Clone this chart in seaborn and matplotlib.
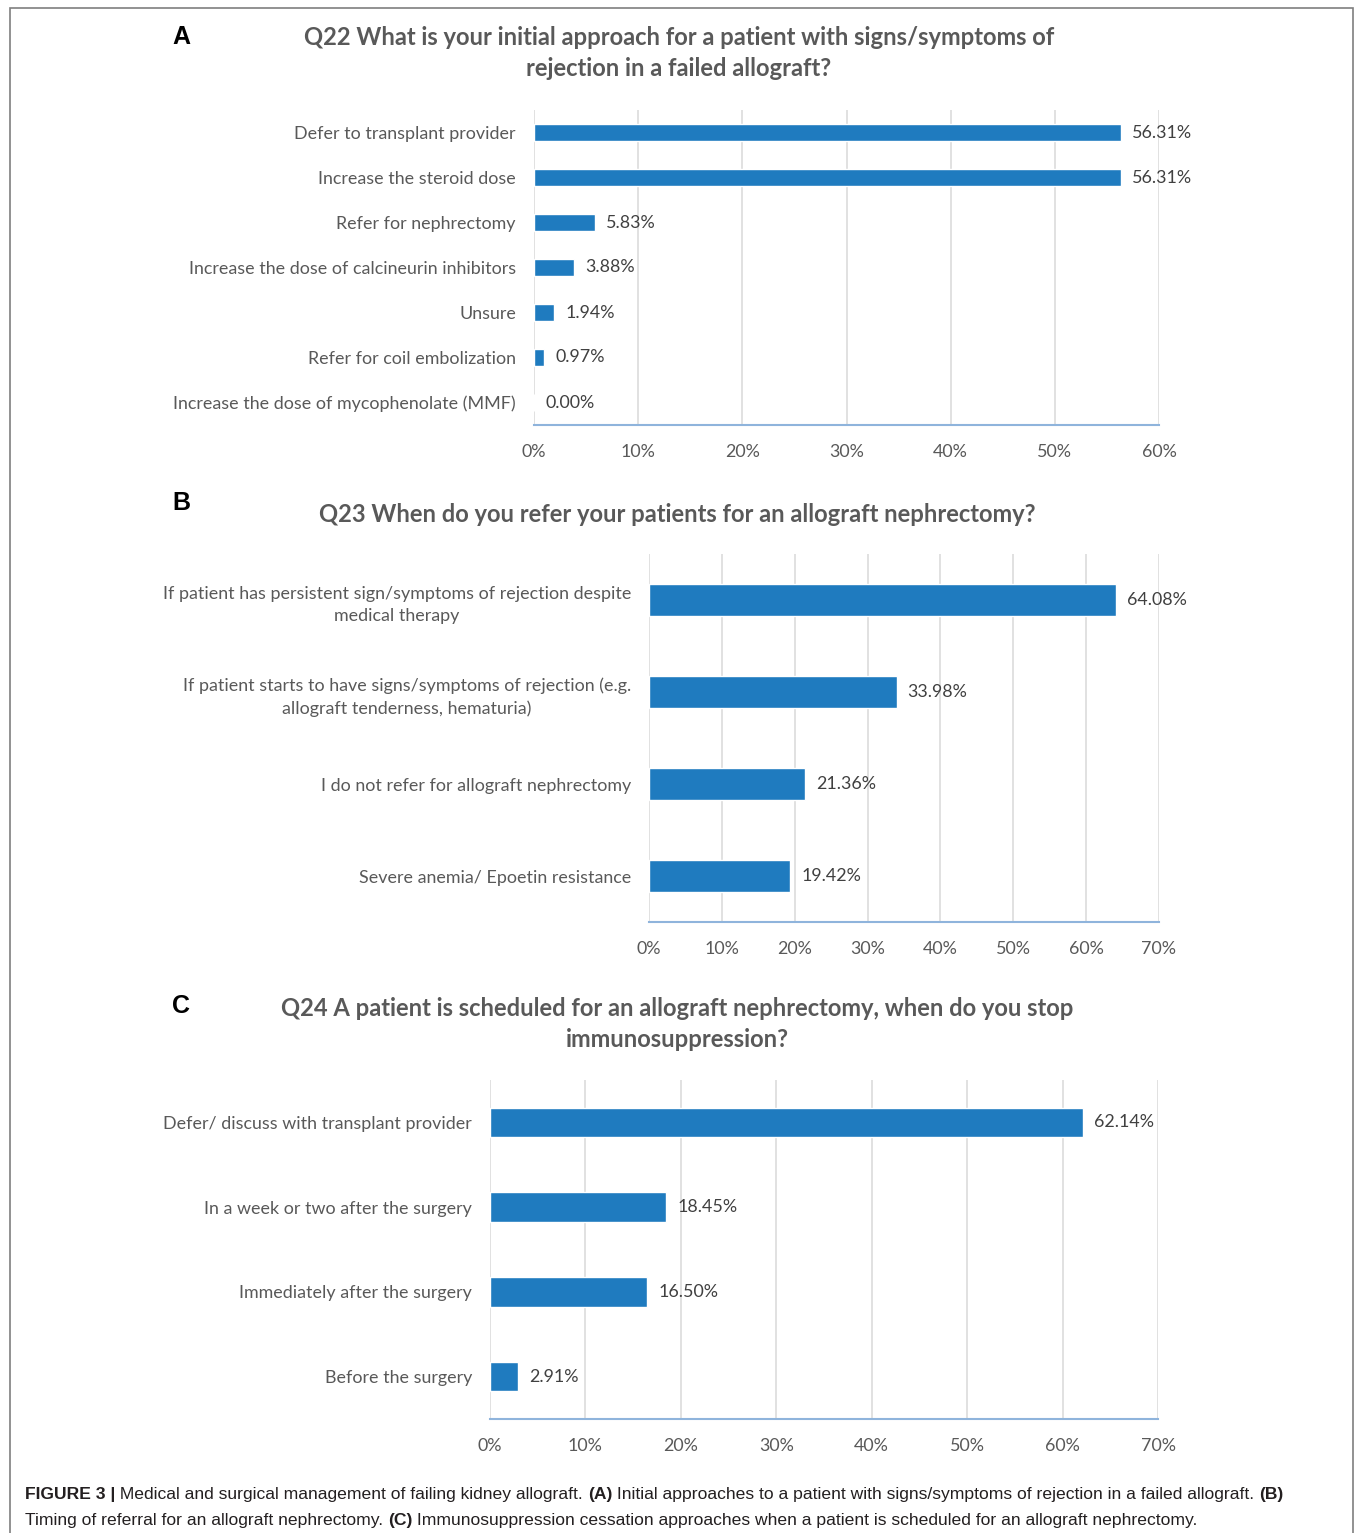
import numpy as np
import pandas as pd
import matplotlib
matplotlib.use("Agg")
import matplotlib.pyplot as plt
import seaborn as sns
from matplotlib import font_manager
from matplotlib.patches import Rectangle

# Panel A data
q22_labels = [
    "Defer to transplant provider",
    "Increase the steroid dose",
    "Refer for nephrectomy",
    "Increase the dose of calcineurin inhibitors",
    "Unsure",
    "Refer for coil embolization",
    "Increase the dose of mycophenolate (MMF)",
]
q22_values = [56.31, 56.31, 5.83, 3.88, 1.94, 0.97, 0.00]
q22_ticks = [0, 10, 20, 30, 40, 50, 60]

# Panel B data
q23_labels = [
    "If patient has persistent sign/symptoms of rejection despite\nmedical therapy",
    "If patient starts to have signs/symptoms of rejection (e.g.\nallograft tenderness, hematuria)",
    "I do not refer for allograft nephrectomy",
    "Severe anemia/ Epoetin resistance",
]
q23_values = [64.08, 33.98, 21.36, 19.42]
q23_ticks = [0, 10, 20, 30, 40, 50, 60, 70]

# Panel C data
q24_labels = [
    "Defer/ discuss with transplant provider",
    "In a week or two after the surgery",
    "Immediately after the surgery",
    "Before the surgery",
]
q24_values = [62.14, 18.45, 16.50, 2.91]
q24_ticks = [0, 10, 20, 30, 40, 50, 60, 70]

titles = [
    "Q22 What is your initial approach for a patient with signs/symptoms of\nrejection in a failed allograft?",
    "Q23 When do you refer your patients for an allograft nephrectomy?",
    "Q24 A patient is scheduled for an allograft nephrectomy, when do you stop\nimmunosuppression?",
]

sns.set_style("white")
plt.rcParams["font.family"] = ["Lato", "DejaVu Sans"]

W, H = 1355, 1533
fig = plt.figure(figsize=(W / 100, H / 100), dpi=100)

BAR = "#1f7bbf"
TXT = "#595959"
FS = 12.85


def add_ax(x0, y0, x1, y1):
    return fig.add_axes([x0 / W, 1 - y1 / H, (x1 - x0) / W, (y1 - y0) / H])


def panel(ax, labels, values, ticks, bar_h):
    df = pd.DataFrame({"label": labels, "value": values})
    sns.barplot(data=df, x="value", y="label", orient="h", color=BAR,
                width=bar_h, saturation=1, ax=ax)
    ax.set_xlim(ticks[0], ticks[-1])
    ax.set_ylim(len(labels) - 0.5, -0.5)
    ax.set_xticks(ticks)
    ax.set_xticklabels([f"{t}%" for t in ticks])
    ax.set_xlabel("")
    ax.set_ylabel("")
    ax.grid(axis="x", color="#dcdcdc", linewidth=1.2)
    ax.set_axisbelow(True)
    for s in ["top", "right", "left"]:
        ax.spines[s].set_visible(False)
    ax.spines["bottom"].set_color("#8fb4dc")
    ax.spines["bottom"].set_linewidth(1.5)
    ax.tick_params(axis="x", length=0, pad=13.5, labelsize=FS, labelcolor=TXT)
    ax.tick_params(axis="y", length=0, pad=13, labelsize=FS, labelcolor=TXT)
    for t in ax.get_yticklabels():
        t.set_multialignment("center")
        t.set_linespacing(1.5)
    labs = ax.bar_label(ax.containers[0], fmt="%.2f%%", padding=8,
                        fontsize=FS, color="#404040")
    for l in labs:
        l.set_va("center")


axA = add_ax(534, 110, 1159, 425)
panel(axA, q22_labels, q22_values, q22_ticks, 0.36)
axB = add_ax(649, 554, 1159, 922)
panel(axB, q23_labels, q23_values, q23_ticks, 0.35)
axC = add_ax(490, 1080, 1158, 1419)
panel(axC, q24_labels, q24_values, q24_ticks, 0.35)

# titles and panel letters
title_pos = [(679, 53), (677, 514), (677, 1024)]
for (cx, cy), t in zip(title_pos, titles):
    fig.text(cx / W, 1 - cy / H, t, ha="center", va="center", fontsize=17.1,
             fontweight="bold", color=TXT, linespacing=1.45)
for letter, y in [("A", 37), ("B", 503), ("C", 1006)]:
    fig.text(181 / W, 1 - y / H, letter, ha="center", va="center",
             fontsize=18, fontweight="bold", color="black",
             family="Liberation Sans")

# frame
fig.patches.append(Rectangle((10 / W, -0.01), 1343 / W, 1 - 8 / H + 0.01,
                             transform=fig.transFigure, fill=False,
                             edgecolor="#7f7f7f", linewidth=1.2))

# caption with bold runs
names = {f.name for f in font_manager.fontManager.ttflist}
cap_font = "Liberation Sans Narrow" if "Liberation Sans Narrow" in names else "Liberation Sans"
cap_size = 14.0 if cap_font == "Liberation Sans Narrow" else 12.6
caption_lines = [
    [("FIGURE 3 |", True), (" Medical and surgical management of failing kidney allograft. ", False),
     ("(A)", True), (" Initial approaches to a patient with signs/symptoms of rejection in a failed allograft. ", False),
     ("(B)", True)],
    [("Timing of referral for an allograft nephrectomy. ", False), ("(C)", True),
     (" Immunosuppression cessation approaches when a patient is scheduled for an allograft nephrectomy.", False)],
]
fig.canvas.draw()
renderer = fig.canvas.get_renderer()
for (runs, y) in zip(caption_lines, [1495, 1520]):
    x = 25
    for text, bold in runs:
        t = fig.text(x / W, 1 - y / H, text, ha="left", va="center",
                     fontsize=cap_size, family=cap_font,
                     fontweight="bold" if bold else "normal", color="#231f20")
        bb = t.get_window_extent(renderer)
        x += bb.width

fig.savefig("out.png", dpi=100)
